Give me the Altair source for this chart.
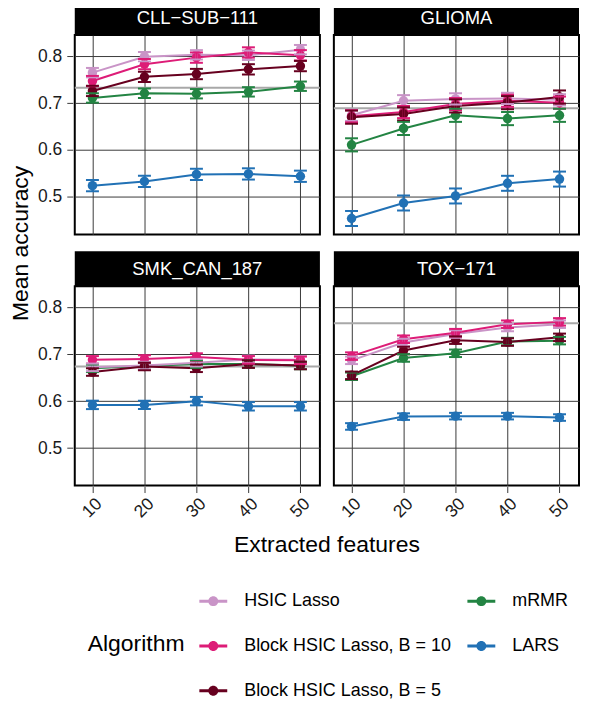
import altair as alt
import pandas as pd

features = [10, 20, 30, 40, 50]
datasets = ["CLL−SUB−111", "GLIOMA", "SMK_CAN_187", "TOX−171"]
algorithms = ["HSIC Lasso", "Block HSIC Lasso, B = 10", "Block HSIC Lasso, B = 5", "mRMR", "LARS"]
colors = ["#c994c7", "#dd1c77", "#67001f", "#238443", "#2171b5"]

# mean accuracy per dataset, per algorithm (features 10..50)
cll_hsic = [0.765, 0.799, 0.803, 0.802, 0.814]
cll_b10 = [0.747, 0.783, 0.797, 0.808, 0.802]
cll_b5 = [0.726, 0.756, 0.762, 0.772, 0.779]
cll_mrmr = [0.711, 0.721, 0.720, 0.724, 0.736]
cll_lars = [0.524, 0.533, 0.548, 0.549, 0.544]

gli_hsic = [0.674, 0.705, 0.709, 0.710, 0.707]
gli_b10 = [0.672, 0.681, 0.698, 0.705, 0.701]
gli_b5 = [0.670, 0.677, 0.694, 0.701, 0.713]
gli_mrmr = [0.611, 0.646, 0.674, 0.667, 0.674]
gli_lars = [0.454, 0.487, 0.502, 0.529, 0.538]

smk_hsic = [0.672, 0.676, 0.682, 0.689, 0.688]
smk_b10 = [0.688, 0.690, 0.694, 0.688, 0.687]
smk_b5 = [0.662, 0.674, 0.670, 0.679, 0.676]
smk_mrmr = [0.670, 0.675, 0.679, 0.679, 0.676]
smk_lars = [0.592, 0.592, 0.600, 0.589, 0.589]

tox_hsic = [0.687, 0.725, 0.743, 0.757, 0.764]
tox_b10 = [0.696, 0.732, 0.746, 0.764, 0.769]
tox_b5 = [0.655, 0.708, 0.730, 0.726, 0.736]
tox_mrmr = [0.653, 0.692, 0.702, 0.727, 0.729]
tox_lars = [0.546, 0.567, 0.568, 0.568, 0.565]

# error bar half-widths per algorithm (same order as algorithms)
cll_err = [0.010, 0.011, 0.011, 0.010, 0.012]
gli_err = [0.012, 0.013, 0.014, 0.014, 0.016]
smk_err = [0.008, 0.008, 0.008, 0.008, 0.009]
tox_err = [0.008, 0.008, 0.008, 0.008, 0.007]

# reference accuracy (grey horizontal line) per dataset
ref_lines = [0.733, 0.689, 0.674, 0.766]

means = [
    [cll_hsic, cll_b10, cll_b5, cll_mrmr, cll_lars],
    [gli_hsic, gli_b10, gli_b5, gli_mrmr, gli_lars],
    [smk_hsic, smk_b10, smk_b5, smk_mrmr, smk_lars],
    [tox_hsic, tox_b10, tox_b5, tox_mrmr, tox_lars],
]
errs = [cll_err, gli_err, smk_err, tox_err]
draw_order = [3, 4, 0, 1, 2]  # mRMR, LARS, HSIC, B10, B5

rows = []
for d, name in enumerate(datasets):
    for k, a in enumerate(draw_order):
        for i, f in enumerate(features):
            m = means[d][a][i]
            e = errs[d][a]
            rows.append({
                "dataset": name, "r": d // 2, "c": d % 2,
                "algorithm": algorithms[a], "ord": k,
                "features": f, "mean": m, "lo": m - e, "hi": m + e,
                "ref": ref_lines[d],
                "first": 1 if (k == 0 and i == 0) else 0,
            })
df = pd.DataFrame(rows)

W, H = 246, 200
FONT = "Liberation Sans"
legend_order = [algorithms[0], algorithms[3], algorithms[1], algorithms[4], algorithms[2]]
legend_colors = [colors[0], colors[3], colors[1], colors[4], colors[2]]

sym = ("M-1,-0.107H-0.34V0.107H-1Z M0.34,-0.107H1V0.107H0.34Z "
       "M-0.357,0A0.357,0.357 0 1 1 0.357,0A0.357,0.357 0 1 1 -0.357,0Z")

xs = alt.X("features:Q", scale=alt.Scale(domain=[6.6, 53.75], nice=False, zero=False),
           axis=alt.Axis(values=features, title=None, labelAngle=-45, labelPadding=2))
yscale = alt.Scale(domain=[0.42, 0.845], nice=False, zero=False)
yaxis = alt.Axis(values=[0.5, 0.6, 0.7, 0.8], format=".1f", title=None)
cscale = alt.Scale(domain=legend_order, range=legend_colors)
color_enc = alt.Color("algorithm:N", scale=cscale, title="Algorithm")

base = alt.Chart()

strip = base.mark_rect(color="black").encode(
    x=alt.value(0), x2=alt.value(W), y=alt.value(-35), y2=alt.value(0)
).transform_filter("datum.first == 1")

strip_text = base.mark_text(color="white", fontSize=18.5, font=FONT, baseline="middle").encode(
    x=alt.value(W / 2), y=alt.value(-17), text="dataset:N"
).transform_filter("datum.first == 1")

ref = base.mark_rule(color="#a8a8a8", strokeWidth=2).encode(
    y=alt.Y("ref:Q", scale=yscale, axis=yaxis)
).transform_filter("datum.first == 1")

ebar = base.mark_rule(strokeWidth=2).encode(
    x=xs, y=alt.Y("lo:Q", scale=yscale, axis=yaxis), y2="hi:Q", color=color_enc
)
cap_lo = base.mark_tick(orient="horizontal", size=13, thickness=2, opacity=1).encode(
    x=xs, y=alt.Y("lo:Q", scale=yscale, axis=yaxis), color=color_enc
)
cap_hi = base.mark_tick(orient="horizontal", size=13, thickness=2, opacity=1).encode(
    x=xs, y=alt.Y("hi:Q", scale=yscale, axis=yaxis), color=color_enc
)
line = base.mark_line(strokeWidth=2).encode(
    x=xs, y=alt.Y("mean:Q", scale=yscale, axis=yaxis), color=color_enc,
    order="features:Q"
)
point = base.mark_point(filled=True, size=90, opacity=1).encode(
    x=xs, y=alt.Y("mean:Q", scale=yscale, axis=yaxis), color=color_enc
)

layered = alt.layer(strip, strip_text, ref, line, point, ebar, cap_lo, cap_hi).properties(
    width=W, height=H
)

chart = layered.facet(
    row=alt.Row("r:O", title="Mean accuracy",
                header=alt.Header(labels=False, titleOrient="left", titleFontSize=23,
                                  titleFont=FONT, titleFontWeight="normal", titleColor="black",
                                  titlePadding=-6, labelPadding=0)),
    column=alt.Column("c:O", title="Extracted features",
                      header=alt.Header(labels=False, titleOrient="bottom", titleFontSize=23,
                                        titleFont=FONT, titleFontWeight="normal",
                                        titleColor="black", titlePadding=3, labelPadding=0)),
    data=df,
    spacing={"row": 15, "column": 10},
).properties(
    padding={"left": 1, "top": -10, "right": 0, "bottom": 0}
).configure_view(
    stroke="black", strokeWidth=2
).configure_axis(
    grid=True, gridColor="#3a3a3a", gridWidth=1, domain=False,
    tickColor="#3a3a3a", tickSize=6, tickWidth=1,
    labelFontSize=17.5, labelFont=FONT, labelColor="#1a1a1a", labelPadding=5
).configure_legend(
    orient="none", legendX=13, legendY=554, direction="horizontal",
    columns=2, titleOrient="left",
    titleAnchor="middle", titleBaseline="middle",
    symbolType=sym, symbolSize=784, symbolStrokeWidth=0,
    labelFontSize=18, titleFontSize=23, labelFont=FONT,
    titleFont=FONT, titleFontWeight="normal",
    rowPadding=22, columnPadding=16, labelOffset=17,
    titlePadding=14, labelColor="black", titleColor="black",
    labelLimit=400
)

chart.save("out.html", embed_options={"renderer": "svg", "actions": False})
